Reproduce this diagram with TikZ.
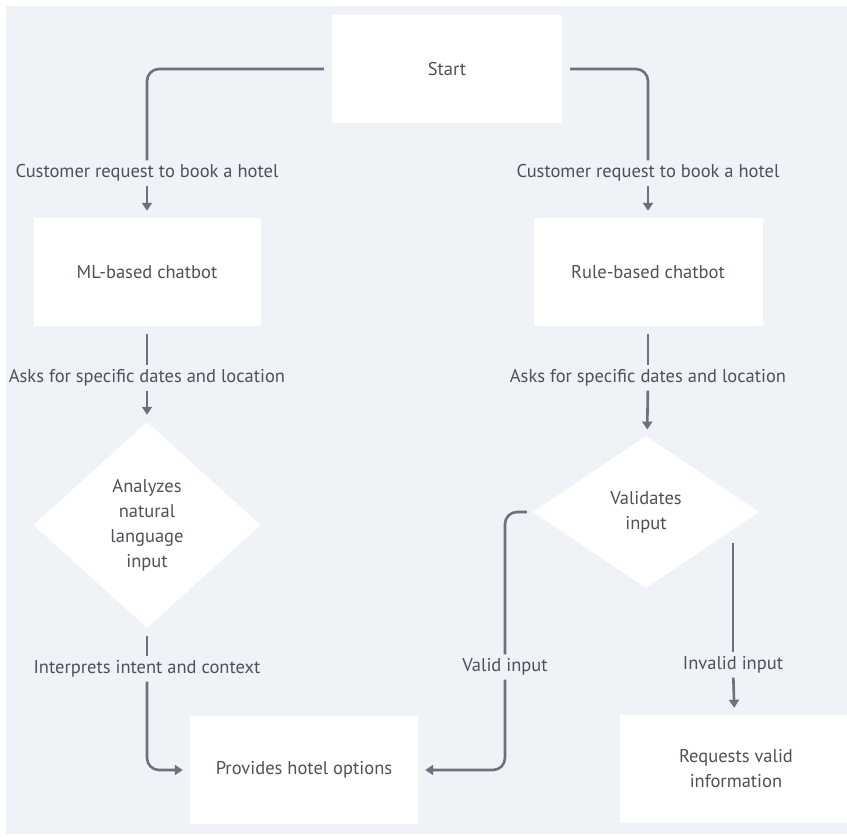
\documentclass[tikz,border=0pt]{standalone}
\usepackage{fontspec}
\setmainfont{PT Sans}
\usepackage{tikz}
\usetikzlibrary{shapes.geometric, arrows.meta}
\definecolor{bgcolor}{HTML}{EFF2F7}
\definecolor{linkcolor}{HTML}{6C727C}
\definecolor{textcolor}{HTML}{4D525A}
\tikzset{
	,box/.style = {
		,rectangle
		,fill = white
		,minimum width	= 230pt
		,minimum height	= 108pt
		,align = center
		,text = textcolor
	}
	,decision/.style = {
		,diamond
		,fill = white
		,inner sep = 0pt
		,align = center
		,text = textcolor
	}
	,lbl/.style  = {text = textcolor, inner sep = 4pt}
	,link/.style = {draw = linkcolor, line width = 2.6pt, rounded corners = 12pt}
	,tip/.style  = {-{Triangle[length=8pt, width=10pt]}, shorten >= 7pt}
}

\begin{document}
\begin{tikzpicture}[x=1pt, y=-1pt, font=\fontsize{18.5}{25}\selectfont]

	% the canvas
	\useasboundingbox (0,0) rectangle (847,837);
	\fill[bgcolor] (6,6) rectangle (847,834);

	% the boxes
	\node[box] (start) at (447,69) {Start};
	\node[box, minimum width=227pt] (ml) at (147,272) {ML-based chatbot};
	\node[box, minimum width=229pt] (rule) at (648,272) {Rule-based chatbot};
	\node[decision, minimum width=227pt, minimum height=206pt] (nlp) at (147,525)
		{Analyzes\\natural\\language\\input};
	\node[decision, minimum width=226pt, minimum height=152pt] (check) at (646,512)
		{Validates\\input};
	\node[box, minimum width=228pt] (offer) at (304,770) {Provides hotel options};
	\node[box, minimum width=232pt] (retry) at (736,769) {Requests valid\\information};

	% the labels on the links
	\node[lbl] (req1) at (147,173) {Customer request to book a hotel};
	\node[lbl] (req2) at (648,173) {Customer request to book a hotel};
	\node[lbl] (ask1) at (147,378) {Asks for specific dates and location};
	\node[lbl] (ask2) at (648,378) {Asks for specific dates and location};
	\node[lbl] (intent) at (147,669) {Interprets intent and context};
	\node[lbl] (valid) at (505,667) {Valid input};
	\node[lbl] (invalid) at (733,665) {Invalid input};

	% the links
	\draw[link, shorten <=8pt] (start.west) -| (req1.north);
	\draw[link, tip] (req1) -- (ml);
	\draw[link, shorten <=8pt] (start.east) -| (req2.north);
	\draw[link, tip] (req2) -- (rule);

	\draw[link, shorten <=8pt] (ml.south) -- (ask1.north);
	\draw[link, tip] (ask1) -- (nlp);
	\draw[link, shorten <=8pt] (rule.south) -- (ask2.north);
	\draw[link, tip] (ask2) -- (check);

	\draw[link, shorten <=8pt] (nlp.south) -- (intent.north);
	\draw[link, tip] (intent.south) |- (offer.west);

	\draw[link, shorten <=6pt] (check.west) -| (valid.north);
	\draw[link, tip] (valid.south) |- (offer.east);

	\draw[link] (check.east -| invalid.north) ++(0,31) coordinate (fork) -- (invalid.north);
	\draw[link, tip] (invalid) -- (retry);
\end{tikzpicture}
\end{document}
